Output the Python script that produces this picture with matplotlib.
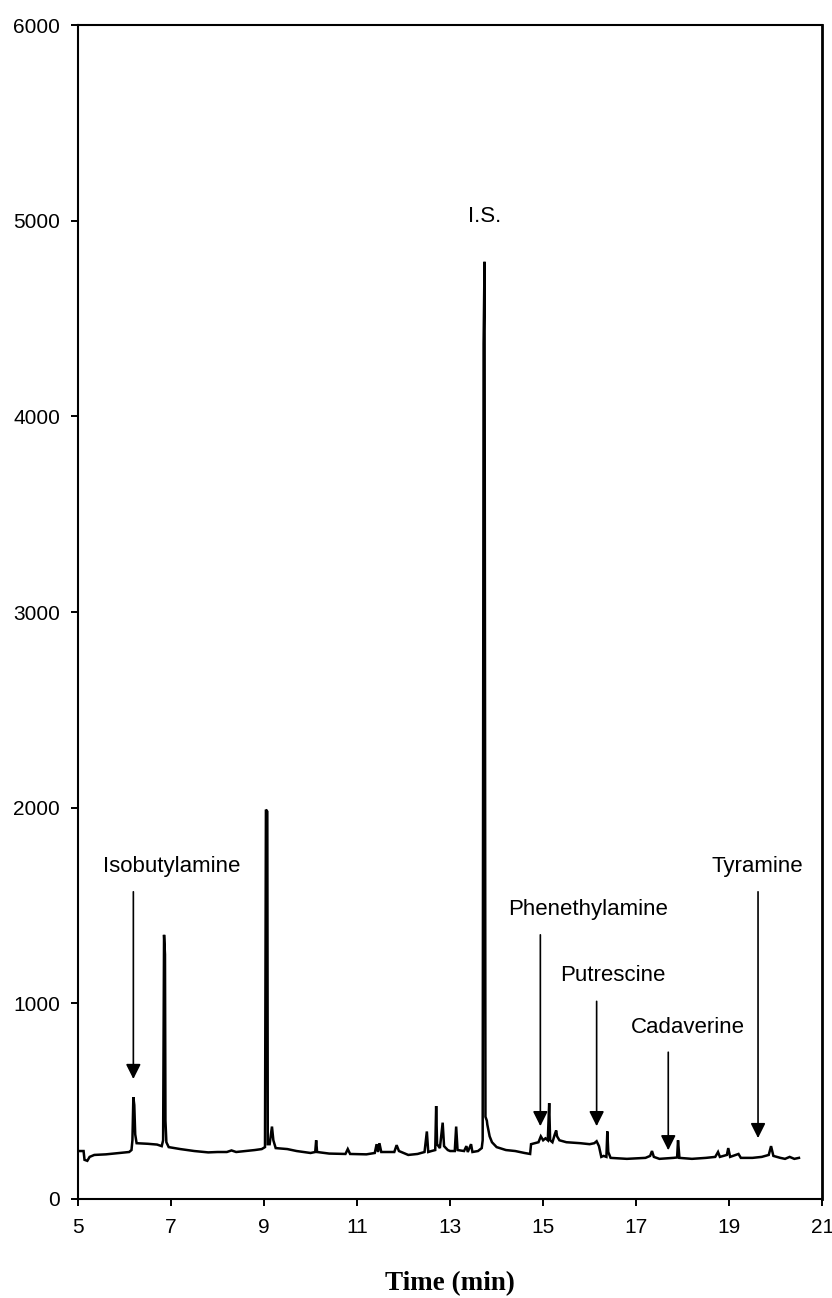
import matplotlib
matplotlib.use("Agg")
import matplotlib.pyplot as plt

# chromatogram trace: time (min), detector response
time_min = [5.00, 5.12, 5.14, 5.20, 5.25, 5.35, 5.60, 5.90, 6.10, 6.15, 6.17, 6.19, 6.21, 6.23,
            6.26, 6.50, 6.70, 6.80, 6.83, 6.85, 6.87, 6.88, 6.90, 6.95, 7.20, 7.50, 7.80, 8.00,
            8.20, 8.30, 8.40, 8.60, 8.80, 8.95, 9.02, 9.04, 9.07, 9.08, 9.12, 9.17, 9.20, 9.25,
            9.50, 9.70, 10.00, 10.10, 10.12, 10.14, 10.40, 10.75, 10.80, 10.85, 11.20, 11.38,
            11.42, 11.45, 11.48, 11.52, 11.80, 11.85, 11.90, 12.10, 12.30, 12.45, 12.50, 12.53,
            12.60, 12.68, 12.70, 12.72, 12.78, 12.84, 12.87, 12.95, 13.00, 13.10, 13.13, 13.16,
            13.30, 13.35, 13.38, 13.45, 13.48, 13.60, 13.68, 13.70, 13.72, 13.74, 13.76, 13.79,
            13.80, 13.85, 13.90, 14.00, 14.20, 14.40, 14.60, 14.72, 14.74, 14.90, 14.95, 15.00,
            15.05, 15.10, 15.13, 15.15, 15.20, 15.25, 15.28, 15.30, 15.35, 15.50, 15.80, 16.00,
            16.10, 16.15, 16.20, 16.25, 16.30, 16.36, 16.38, 16.40, 16.45, 16.80, 17.20, 17.30,
            17.34, 17.38, 17.50, 17.80, 17.88, 17.90, 17.93, 18.20, 18.50, 18.70, 18.76, 18.80,
            18.95, 18.98, 19.02, 19.20, 19.25, 19.50, 19.70, 19.85, 19.90, 19.95, 20.10, 20.20,
            20.30, 20.40, 20.50]
response = [245, 245, 200, 195, 215, 225, 228, 235, 240, 250, 300, 520, 480, 330,
            285, 282, 278, 270, 300, 1350, 1250, 400, 290, 265, 255, 245, 238, 240,
            240, 248, 240, 245, 250, 255, 265, 1990, 1980, 280, 280, 370, 300, 260,
            255, 245, 235, 240, 300, 240, 232, 230, 255, 230, 228, 235,
            280, 240, 285, 240, 240, 275, 245, 225, 230, 240, 345, 240,
            245, 250, 475, 280, 260, 390, 270, 250, 245, 245, 370, 250,
            245, 270, 240, 280, 240, 245, 260, 300, 4370, 4790, 420, 400,
            380, 320, 290, 265, 250, 245, 235, 230, 280, 290, 320, 300,
            310, 300, 490, 300, 290, 330, 350, 320, 300, 290, 285, 280,
            285, 295, 270, 215, 220, 215, 345, 240, 210, 205, 210, 220,
            245, 215, 205, 210, 212, 300, 210, 205, 210, 215, 240, 215,
            225, 260, 215, 230, 210, 210, 215, 225, 270, 220, 210, 205,
            215, 205, 210]

# peak labels with arrows: name, arrow x, arrow top, arrow tip, label x, label y
peak_names = ["Isobutylamine", "Phenethylamine", "Putrescine", "Cadaverine", "Tyramine"]
arrow_x = [6.19, 14.94, 16.15, 17.69, 19.62]
arrow_top = [1570, 1350, 1010, 750, 1570]
arrow_tip = [613, 372, 372, 249, 311]
label_x = [7.01, 15.97, 16.50, 18.12, 19.60]
label_y = [1700, 1480, 1140, 875, 1700]

xticks = [5, 7, 9, 11, 13, 15, 17, 19, 21]
yticks = [0, 1000, 2000, 3000, 4000, 5000, 6000]

plt.rcParams['font.family'] = ['Liberation Sans', 'DejaVu Sans']

fig = plt.figure(figsize=(8.32, 12.98), dpi=100)
ax = fig.add_axes([0.09375, 0.0763, 0.8945, 0.9044])

ax.plot(time_min, response, color='black', linewidth=1.8, solid_joinstyle='miter')

for name, x, top, tip, lx, ly in zip(peak_names, arrow_x, arrow_top, arrow_tip, label_x, label_y):
    ax.annotate('', xy=(x, tip), xytext=(x, top),
                arrowprops=dict(arrowstyle='-|>,head_length=0.6,head_width=0.3',
                                lw=1.2, color='black', mutation_scale=15,
                                shrinkA=0, shrinkB=0))
    ax.text(lx, ly, name, fontsize=16, ha='center', va='center')

ax.text(13.75, 5020, "I.S.", fontsize=16, ha='center', va='center')

ax.set_xlim(5, 21)
ax.set_ylim(0, 6000)
ax.set_xticks(xticks)
ax.set_yticks(yticks)
ax.tick_params(axis='both', direction='out', length=5, width=1.4, labelsize=15)
ax.tick_params(axis='x', pad=9)
ax.tick_params(axis='y', pad=8)
for side in ['left', 'bottom', 'top']:
    ax.spines[side].set_linewidth(1.5)
ax.spines['right'].set_linewidth(2.0)

fig.text(0.5409, 0.011, "Time (min)", fontsize=19.5, fontweight='bold',
         family=['Liberation Serif', 'DejaVu Serif'], ha='center', va='center')

fig.savefig('out.png', dpi=100)
